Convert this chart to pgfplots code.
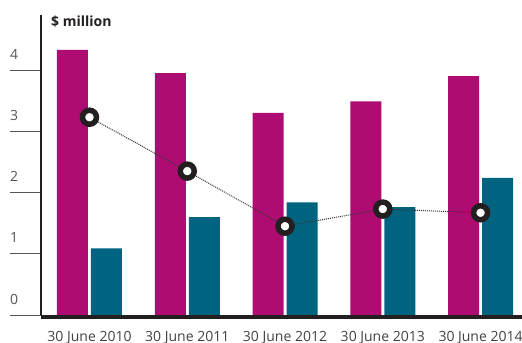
\documentclass[border=0pt]{standalone}
\usepackage{pgfplots}
\pgfplotsset{compat=1.18}
\usepackage{fontspec}
\setmainfont{Open Sans}
\definecolor{mag}{RGB}{174,12,114}
\definecolor{teal}{RGB}{0,100,128}
\definecolor{dk}{RGB}{35,31,32}
\definecolor{tk}{RGB}{85,85,85}
\begin{document}
\begin{tikzpicture}
\begin{axis}[
  at={(0,0)}, anchor=south west,
  scale only axis, width=481bp, height=300bp,
  xmin=-0.496, xmax=4.424, ymin=0, ymax=4.9,
  ybar=3bp, bar width=31bp,
  axis x line=none, axis y line*=left,
  y axis line style={dk, line width=1.3bp, -},
  ytick={0,1,2,3,4},
  tick align=outside, major tick length=31bp,
  ytick style={tk, line width=0.9bp},
  yticklabel style={anchor=base west, inner sep=0pt, xshift=0bp, yshift=11bp, font=\fontsize{14bp}{16bp}\selectfont, text=tk},
  /pgf/number format/assume math mode=true,
  clip=false,
]
\addplot[fill=mag, draw=none] coordinates {(0,4.33) (1,3.95) (2,3.30) (3,3.49) (4,3.90)};
\addplot[fill=teal, draw=none] coordinates {(0,1.09) (1,1.60) (2,1.84) (3,1.76) (4,2.24)};
\addplot[sharp plot, densely dotted, line width=1bp, dk!90, mark=*, mark size=7bp,
  mark options={solid, fill=white, draw=dk, line width=5.5bp}]
  coordinates {(0,3.23) (1,2.35) (2,1.45) (3,1.73) (4,1.67)};
\draw[line width=4bp, dk] ([yshift=-2bp]rel axis cs:0,0) -- ([yshift=-2bp]rel axis cs:1,0);
\foreach \i/\lab in {0/2010,1/2011,2/2012,3/2013,4/2014}{
  \edef\tmp{\noexpand\node[anchor=base, inner sep=0pt, font=\noexpand\fontsize{14bp}{16bp}\noexpand\selectfont, text=dk!85] at ([yshift=-26bp]axis cs:\i,0) {30 June \lab};}
  \tmp
}
\node[anchor=base west, inner sep=0pt, font=\fontsize{14bp}{16bp}\selectfont\bfseries, text=dk] at ([xshift=10bp, yshift=288bp]rel axis cs:0,0) {\$ million};
\end{axis}
\pgfresetboundingbox
\useasboundingbox (-41bp,-28bp) rectangle (481bp,315bp);
\end{tikzpicture}
\end{document}
